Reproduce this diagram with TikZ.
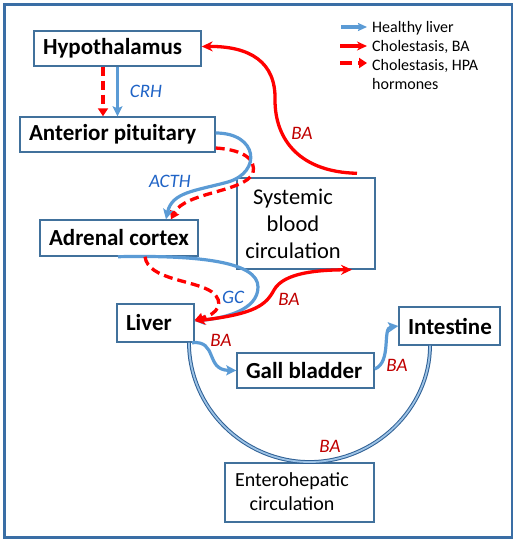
\documentclass[tikz,border=0pt]{standalone}
\usepackage{fontspec}
\setmainfont{Carlito}
\usetikzlibrary{arrows.meta}
\definecolor{framec}{HTML}{3A6EA5}
\definecolor{boxc}{HTML}{41719C}
\definecolor{bluea}{HTML}{5B9BD5}
\definecolor{redc}{HTML}{FF0000}
\definecolor{lblue}{HTML}{1F63C6}
\definecolor{dred}{HTML}{C00000}
\definecolor{arcout}{HTML}{2E5F94}
\definecolor{arcin}{HTML}{9DC3E6}
\newcommand\lbx[2]{\makebox[#1][l]{#2}}
\tikzset{
  box/.style={draw=boxc, line width=1.4pt, rectangle, inner xsep=9pt, inner ysep=0pt, fill=none},
  blbl/.style={font=\fontsize{23}{27}\selectfont\bfseries},
  healthy/.style={draw=bluea, line width=3.2pt, -{Stealth[length=10pt,width=10pt,inset=2pt]}},
  cholba/.style={draw=redc, line width=3.3pt},
  cholhpa/.style={draw=redc, line width=3.3pt, dash pattern=on 9pt off 5pt, -{Triangle[length=8pt,width=10pt]}},
  ilab/.style={font=\fontsize{19}{22}\selectfont\itshape, text=lblue, inner sep=0pt},
  balab/.style={font=\fontsize{19}{22}\selectfont\itshape, text=dred, inner sep=0pt},
  legtxt/.style={font=\fontsize{16}{18.5}\selectfont, inner sep=0pt, anchor=base west, align=left},
}
\begin{document}
\begin{tikzpicture}[x=1pt,y=-1pt]
\useasboundingbox (0,0) rectangle (517,543);
\draw[framec, line width=2.2pt] (4.5,4.5) rectangle (512,537.5);

% boxes
\node[box, blbl, minimum height=35pt] (hyp) at (117.5,48.5) {\lbx{149pt}{Hypothalamus}};
\node[box, blbl, minimum height=35pt] (ant) at (117.5,134.5) {\lbx{177pt}{Anterior pituitary}};
\node[box, blbl, minimum height=36pt] (adr) at (119,238) {\lbx{140pt}{Adrenal cortex}};
\node[box, blbl, minimum height=38pt] (liv) at (155.5,323) {\lbx{59pt}{Liver}};
\node[box, blbl, minimum height=35pt] (gal) at (305.5,370.5) {\lbx{119pt}{Gall bladder}};
\node[box, blbl, minimum height=38pt] (int) at (449.5,326) {\lbx{83pt}{Intestine}};
\node[box, minimum width=138pt, minimum height=91pt, inner sep=0pt] (sys) at (306,223.5) {};
\node[font=\fontsize{22.5}{27}\selectfont, align=center, inner sep=0pt] (systxt) at (293,224) {Systemic\\blood\\circulation};
\node[box, minimum width=149pt, minimum height=59pt, inner sep=0pt] (ent) at (299.5,492.5) {};
\node[font=\fontsize{20}{24}\selectfont, align=center, inner sep=0pt] (enttxt) at (292,492) {Enterohepatic\\circulation};

% enterohepatic arc
\draw[draw=arcout, line width=1pt, double=arcin, double distance=1.8pt]
  ([xshift=33.5pt]liv.south) .. controls (189,408) and (244,462) .. (309.5,462)
  .. controls (375,462) and (430,408) .. ([xshift=-19.5pt]int.south);

% hypothalamus -> pituitary
\draw[cholhpa] ([xshift=-14.5pt]hyp.south) -- ([xshift=-14.5pt]hyp.south |- ant.north);
\draw[healthy] (hyp.south) -- (hyp.south |- ant.north);
\node[ilab] (crh) at (146,91) {CRH};

% ACTH
\draw[cholhpa] ([yshift=-13.5pt]ant.east) .. controls (245,150) and (256,160) .. (253,173)
  .. controls (245,192) and (185,192) .. ([xshift=52pt]adr.north);
\draw[healthy] ([yshift=1.5pt]ant.east) .. controls (258,133) and (262,172) .. (228,182)
  .. controls (195,191) and (172,192) .. ([xshift=47pt]adr.north);
\node[ilab] (acth) at (170,181) {ACTH};

% BA systemic -> hypothalamus
\draw[cholba, -{Stealth[length=11pt,width=10pt]}] ([xshift=51pt,yshift=4pt]sys.north)
  .. controls (300,172) and (275,140) .. (275,100)
  .. controls (276,62) and (250,46) .. ([yshift=2pt]hyp.east);
\node[balab] (ba1) at (302,133) {BA};

% GC
\draw[healthy] ([xshift=-1pt]adr.south) .. controls (200,255) and (258,262) .. (258,287)
  .. controls (258,310) and (225,318) .. ([yshift=2pt]liv.east);
\draw[cholhpa] ([xshift=26pt]adr.south) .. controls (148,280) and (195,280) .. (212,292)
  .. controls (225,302) and (218,314) .. ([yshift=3pt]liv.east);
\node[ilab] (gc) at (233,297) {GC};

% BA liver <-> systemic
\draw[cholba, {Stealth[length=11pt,width=10pt]}-{Stealth[length=11pt,width=10pt]}]
  ([yshift=2pt]liv.east) .. controls (255,314) and (266,305) .. (274,290)
  .. controls (284,272) and (320,270) .. ([xshift=46pt]sys.south);
\node[balab] (ba2) at (289,299) {BA};

% liver -> gall bladder
\draw[healthy] ([xshift=36.5pt]liv.south) .. controls (218,340) and (205,370) .. (gal.west);
\node[balab] (ba3) at (221,340) {BA};

% gall bladder -> intestine
\draw[healthy] ([yshift=1.5pt]gal.east) .. controls (392,362) and (382,328) .. (int.west);
\node[balab] (ba4) at (397,365) {BA};

\node[balab] (ba5) at (330,446) {BA};

% legend
\coordinate (l1a) at (341,27); \coordinate (l1b) at (367,27);
\coordinate (l2a) at (340,46); \coordinate (l2b) at (367,46);
\coordinate (l3a) at (340,63); \coordinate (l3b) at (367,63);
\draw[healthy, -{Stealth[length=9pt,width=8pt,inset=1.5pt]}] (l1a) -- (l1b);
\draw[cholba, -{Stealth[length=10pt,width=9pt]}] (l2a) -- (l2b);
\draw[cholhpa, dash pattern=on 12pt off 6pt] (l3a) -- (l3b);
\node[legtxt] (leg1) at (372,32.3) {Healthy liver};
\node[legtxt] (leg2) at (372,51.7) {Cholestasis, BA};
\node[legtxt] (leg3) at (372,89.3) {Cholestasis, HPA\\hormones};
\end{tikzpicture}
\end{document}
